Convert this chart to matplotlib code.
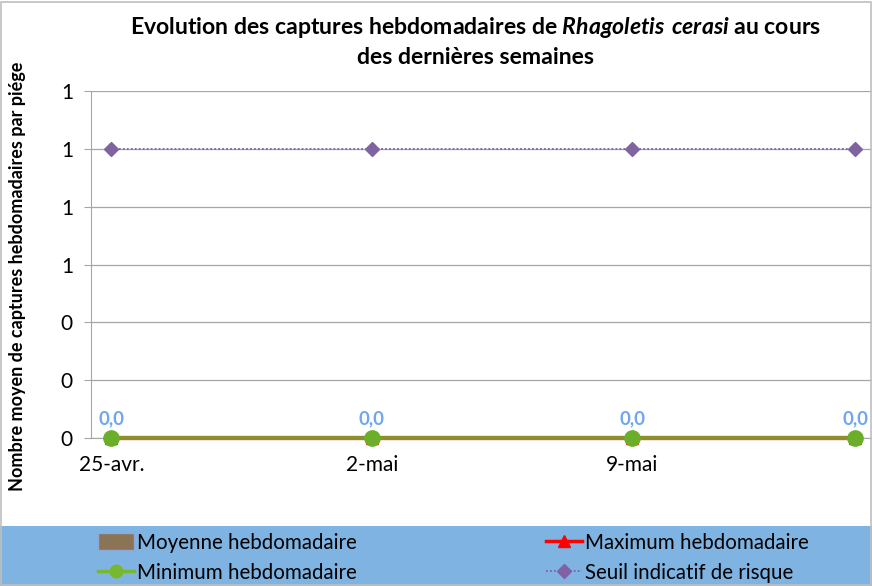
import numpy as np
import matplotlib
matplotlib.use("Agg")
import matplotlib.pyplot as plt
from matplotlib.lines import Line2D
from matplotlib.patches import Patch, Rectangle

plt.rcParams['font.family'] = ['Lato', 'DejaVu Sans']
plt.rcParams['mathtext.fontset'] = 'custom'
plt.rcParams['mathtext.bfit'] = 'Lato:italic:bold'
plt.rcParams['mathtext.rm'] = 'Lato:bold'

# data
days = [0, 7, 14, 20]          # days since 25 April
tick_days = [0, 7, 14]
tick_labels = ['25-avr.', '2-mai', '9-mai']
moyenne = [0.0, 0.0, 0.0, 0.0]
maximum = [0.0, 0.0, 0.0, 0.0]
minimum = [0.0, 0.0, 0.0, 0.0]
seuil = [1.0, 1.0, 1.0, 1.0]

fig = plt.figure(figsize=(8.72, 5.86), dpi=100)
ax = fig.add_axes([0.1044, 0.2526, 0.8956, 0.592])

# background frame + legend band
fig.patches.append(Rectangle((0.0, 0.0), 1.0, 0.102, transform=fig.transFigure,
                             facecolor='#7FB3E2', edgecolor='none', zorder=0))
fig.patches.append(Rectangle((0.001, 0.001), 0.998, 0.996, transform=fig.transFigure,
                             facecolor='none', edgecolor='#BFBFBF', lw=1.2, zorder=1))

ax.bar(days, moyenne, width=0.8, color='#8B7355', zorder=2)
ax.plot(days, maximum, color='#FF0000', lw=3, marker='^', ms=9, zorder=3, clip_on=False)
ax.plot(days, minimum, color='#8E8E2A', lw=3, marker='o', ms=11,
        markerfacecolor='#6BAE2A', markeredgecolor='#6BAE2A', zorder=4, clip_on=False)
ax.plot(days, seuil, color='#7F5FA8', lw=1.3, ls=(0, (1, 1.2)), marker='D', ms=7,
        markerfacecolor='#8064A2', markeredgecolor='#8064A2', zorder=3)

for d, v in zip(days, moyenne):
    ax.annotate(('%.1f' % v).replace('.', ','), (d, v), xytext=(0, 8),
                textcoords='offset points', ha='center', va='bottom',
                color='#6EA6F0', fontweight='bold', fontsize=13.5)

ax.set_xlim(-0.55, 20.45)
ax.set_ylim(0, 1.2)
ax.set_yticks(np.arange(0, 1.21, 0.2))
ax.set_yticklabels(['%.0f' % t for t in np.arange(0, 1.21, 0.2)], fontsize=15)
ax.set_xticks(tick_days)
ax.set_xticklabels(tick_labels, fontsize=15)
ax.tick_params(axis='x', length=0, pad=12)
ax.tick_params(axis='y', length=5, color='#A6A6A6', pad=8)
ax.grid(axis='y', color='#A6A6A6', lw=0.9)
ax.set_axisbelow(True)
for s in ['top', 'right']:
    ax.spines[s].set_visible(False)
ax.spines['left'].set_color('#A6A6A6')
ax.spines['bottom'].set_color('#A6A6A6')
ax.patch.set_alpha(0)

ax.set_ylabel('Nombre moyen de captures hebdomadaires par piége', fontsize=13,
              fontweight='bold')
ax.yaxis.set_label_coords(-0.083, 0.465)

fig.text(0.545, 0.953,
         r'Evolution des captures hebdomadaires de $\mathbfit{Rhagoletis\ cerasi}$ au cours',
         ha='center', va='center', fontsize=16.6, fontweight='bold')
fig.text(0.545, 0.902, 'des dernières semaines', ha='center', va='center',
         fontsize=16.6, fontweight='bold')

handles = [
    Patch(facecolor='#8B7355', edgecolor='#8FA8D8'),
    Line2D([], [], color='#77B82E', lw=2.5, marker='o', ms=9),
    Line2D([], [], color='#FF0000', lw=2.5, marker='^', ms=9),
    Line2D([], [], color='#7F5FA8', lw=1.3, ls=(0, (1, 1.2)), marker='D', ms=7,
           markerfacecolor='#8064A2'),
]
labels = ['Moyenne hebdomadaire', 'Minimum hebdomadaire',
          'Maximum hebdomadaire', 'Seuil indicatif de risque']
fig.legend(handles, labels, loc='center left', bbox_to_anchor=(0.112, 0.048), ncol=2,
           frameon=False, fontsize=14.8, columnspacing=9.2, handlelength=1.75,
           handleheight=0.85, handletextpad=0.15, labelspacing=0.5,
           borderaxespad=0, borderpad=0)

fig.savefig('out.png', dpi=100)
